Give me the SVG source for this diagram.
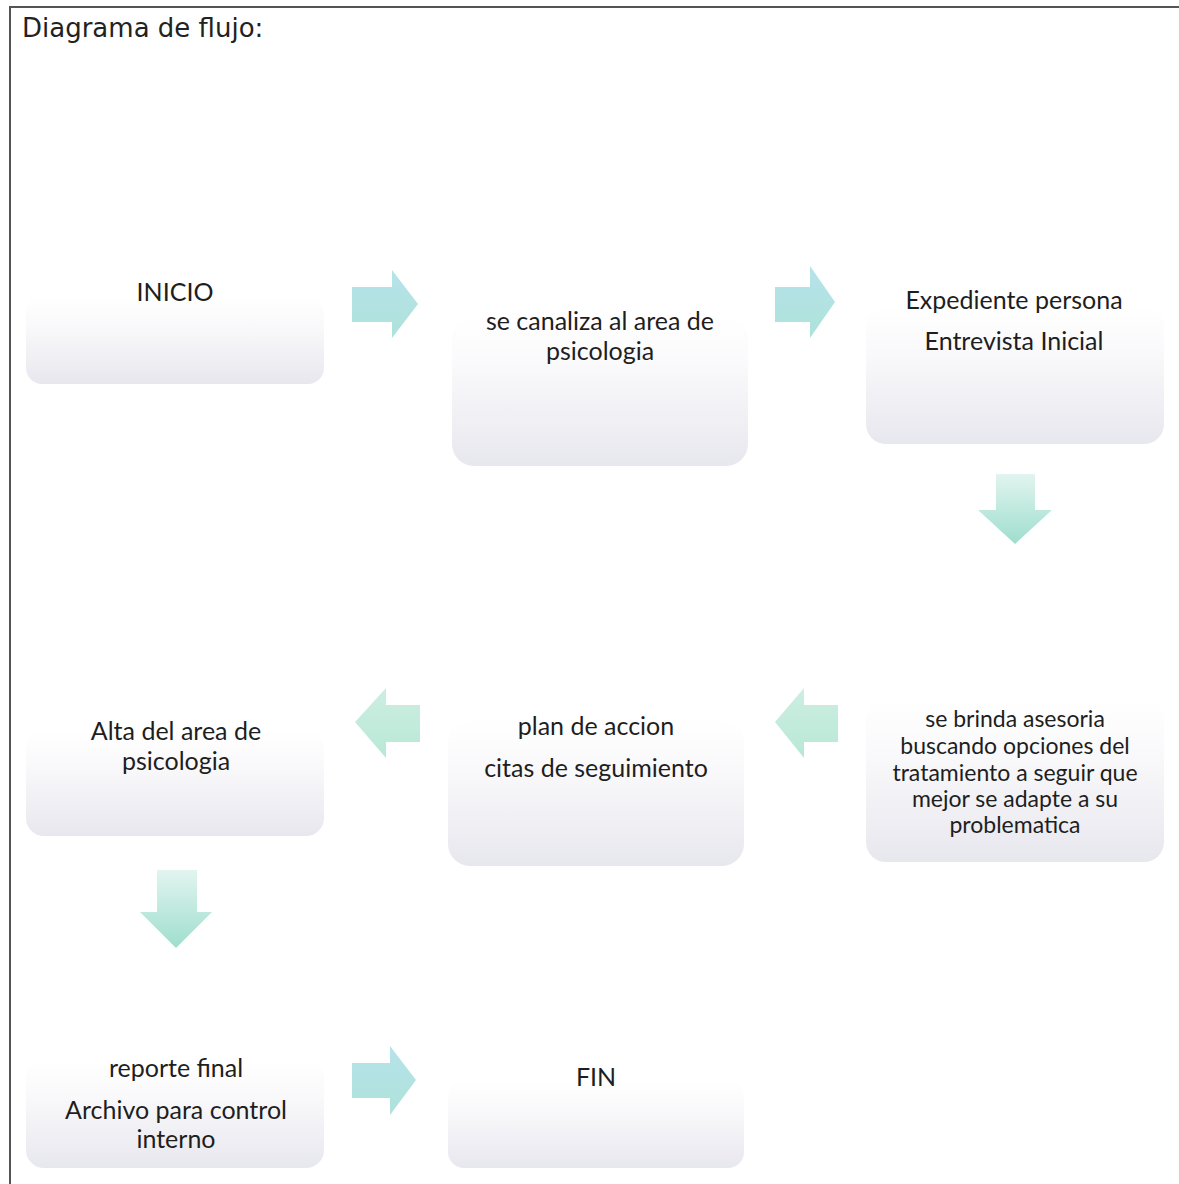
<svg xmlns="http://www.w3.org/2000/svg" width="1179" height="1184" viewBox="0 0 1179 1184">
<defs>
<linearGradient id="box" x1="0" y1="0" x2="0" y2="1">
<stop offset="0" stop-color="#ffffff"/>
<stop offset="0.35" stop-color="#f9f9fb"/>
<stop offset="1" stop-color="#e7e7ee"/>
</linearGradient>
<linearGradient id="arrH" x1="0" y1="0" x2="0" y2="1">
<stop offset="0" stop-color="#b6e3ea"/>
<stop offset="1" stop-color="#aee2da"/>
</linearGradient>
<linearGradient id="arrV" x1="0" y1="0" x2="0" y2="1">
<stop offset="0" stop-color="#e2f4f0"/>
<stop offset="1" stop-color="#9edecd"/>
</linearGradient>
<linearGradient id="arrL" x1="0" y1="0" x2="0" y2="1">
<stop offset="0" stop-color="#cdeee2"/>
<stop offset="1" stop-color="#b8e8d6"/>
</linearGradient>
<style>
.box{fill:url(#box);}
.t{font-family:Lato,"Liberation Sans",sans-serif;font-size:25px;fill:#1e1e1e;text-anchor:middle;}
.s{font-size:23px;}
.title{font-family:"DejaVu Sans","Liberation Sans",sans-serif;font-size:26px;fill:#222;}
</style>
</defs>
<rect width="1179" height="1184" fill="#ffffff"/>
<path d="M10,1184 V7 H1179" fill="none" stroke="#555" stroke-width="2"/>
<text class="title" x="22" y="37">Diagrama de flujo:</text>

<g id="n1"><rect class="box" x="26" y="296" width="298" height="88" rx="16"/><text class="t" x="175" y="301">INICIO</text></g>
<g id="n2"><rect class="box" x="452" y="318" width="296" height="148" rx="22"/><text class="t" x="600" y="330">se canaliza al area de</text><text class="t" x="600" y="360">psicologia</text></g>
<g id="n3"><rect class="box" x="866" y="306" width="298" height="138" rx="20"/><text class="t" x="1014" y="309">Expediente persona</text><text class="t" x="1014" y="350">Entrevista Inicial</text></g>
<g id="n4"><rect class="box" x="866" y="700" width="298" height="162" rx="20"/><text class="t s" x="1015" y="727">se brinda asesoria</text><text class="t s" x="1015" y="754">buscando opciones del</text><text class="t s" x="1015" y="781">tratamiento a seguir que</text><text class="t s" x="1015" y="807">mejor se adapte a su</text><text class="t s" x="1015" y="833">problematica</text></g>
<g id="n5"><rect class="box" x="448" y="720" width="296" height="146" rx="22"/><text class="t" x="596" y="735">plan de accion</text><text class="t" x="596" y="777">citas de seguimiento</text></g>
<g id="n6"><rect class="box" x="26" y="730" width="298" height="106" rx="18"/><text class="t" x="176" y="740">Alta del area de</text><text class="t" x="176" y="770">psicologia</text></g>
<g id="n7"><rect class="box" x="26" y="1060" width="298" height="108" rx="18"/><text class="t" x="176" y="1077">reporte final</text><text class="t" x="176" y="1119">Archivo para control</text><text class="t" x="176" y="1148">interno</text></g>
<g id="n8"><rect class="box" x="448" y="1080" width="296" height="88" rx="16"/><text class="t" x="596" y="1086">FIN</text></g>

<g id="connectors">
<polygon fill="url(#arrH)" points="352,287 392,287 392,270 418,304 392,338 392,322 352,322"/>
<polygon fill="url(#arrH)" points="775,287 810,287 810,266 835,302 810,338 810,322 775,322"/>
<polygon fill="url(#arrV)" points="996,474 1035,474 1035,510 1052,510 1015,544 978,510 996,510"/>
<polygon fill="url(#arrL)" points="838,705 804,705 804,688 775,722 804,758 804,742 838,742"/>
<polygon fill="url(#arrL)" points="420,705 386,705 386,688 355,722 386,758 386,742 420,742"/>
<polygon fill="url(#arrV)" points="157,870 197,870 197,912 212,912 176,948 140,912 157,912"/>
<polygon fill="url(#arrH)" points="352,1063 390,1063 390,1046 416,1080 390,1115 390,1098 352,1098"/>
</g>
</svg>
